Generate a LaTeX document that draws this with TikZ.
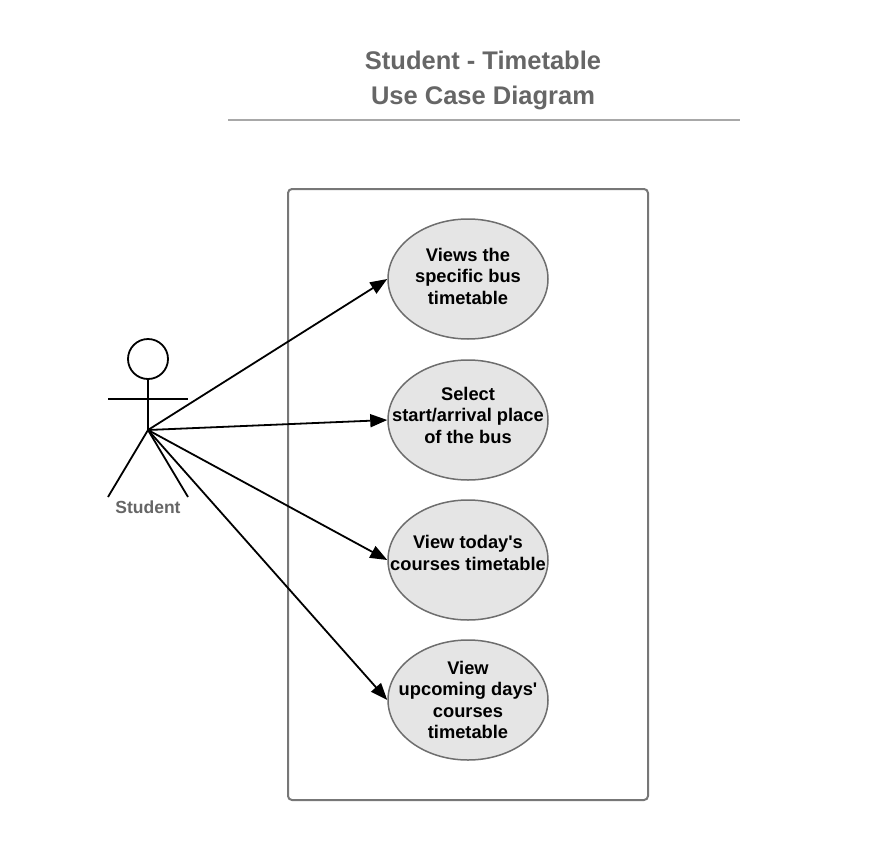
\documentclass[tikz,border=0pt]{standalone}
\usepackage{fontspec}
\setmainfont{Liberation Sans}
\usetikzlibrary{arrows.meta,shapes.geometric}

\definecolor{titlegray}{HTML}{666666}
\definecolor{ucfill}{HTML}{E5E5E5}
\definecolor{ucline}{HTML}{6E6E6E}
\definecolor{boxline}{HTML}{777777}
\definecolor{rulegray}{HTML}{A8A8A8}

\begin{document}
\begin{tikzpicture}
[
  x=1pt, y=-1pt,
	title/.style={text=titlegray,font=\fontsize{25.5}{35}\selectfont\bfseries,align=center},
	usecase/.style={ellipse,draw=ucline,line width=1.5pt,fill=ucfill,minimum width=160pt,minimum height=120pt,inner sep=-40pt},
	uctext/.style={align=center,yshift=3pt,font=\fontsize{18.3}{21.5}\selectfont\bfseries},
	stick/.style={line width=1.8pt,black},
	assoc/.style={line width=1.8pt,-{Triangle[length=17pt,width=13pt]}},
	sysbox/.style={draw=boxline,line width=2pt,rounded corners=4pt}
]
\useasboundingbox (0,0) rectangle (883,859);

\node[title] (head) at(483,80) {Student - Timetable\\Use Case Diagram};
\draw[rulegray,line width=1.5pt] (228,120) -- (740,120);

% system boundary
\draw[sysbox] (288,189) rectangle (648,800);

\node[usecase,label={[uctext]center:Views the\\specific bus\\timetable}] (uc1) at(468,279) {};
\node[usecase,label={[uctext,yshift=2pt]center:Select\\start/arrival place\\of the bus}] (uc2) at(468,420) {};
\node[usecase,label={[uctext,yshift=4pt]center:View today\textquotesingle s\\courses timetable}] (uc3) at(468,560) {};
\node[usecase,label={[uctext,yshift=-3pt]center:View\\upcoming days\textquotesingle\\courses\\timetable}] (uc4) at(468,700) {};

% actor
\draw[stick] (148,359) circle (20);
\coordinate (neck) at (148,379);
\coordinate (hip) at (148,430);
\draw[stick] (neck) -- (hip);
\draw[stick] (108,399) -- (188,399);
\draw[stick] (108,497) -- (hip) -- (188,497);
\node[text=titlegray,font=\fontsize{17.5}{20}\selectfont\bfseries] (student) at(148,507) {Student};

\draw[assoc] (hip) -- (uc1.west);
\draw[assoc] (hip) -- (uc2.west);
\draw[assoc] (hip) -- (uc3.west);
\draw[assoc] (hip) -- (uc4.west);

\end{tikzpicture}
\end{document}
